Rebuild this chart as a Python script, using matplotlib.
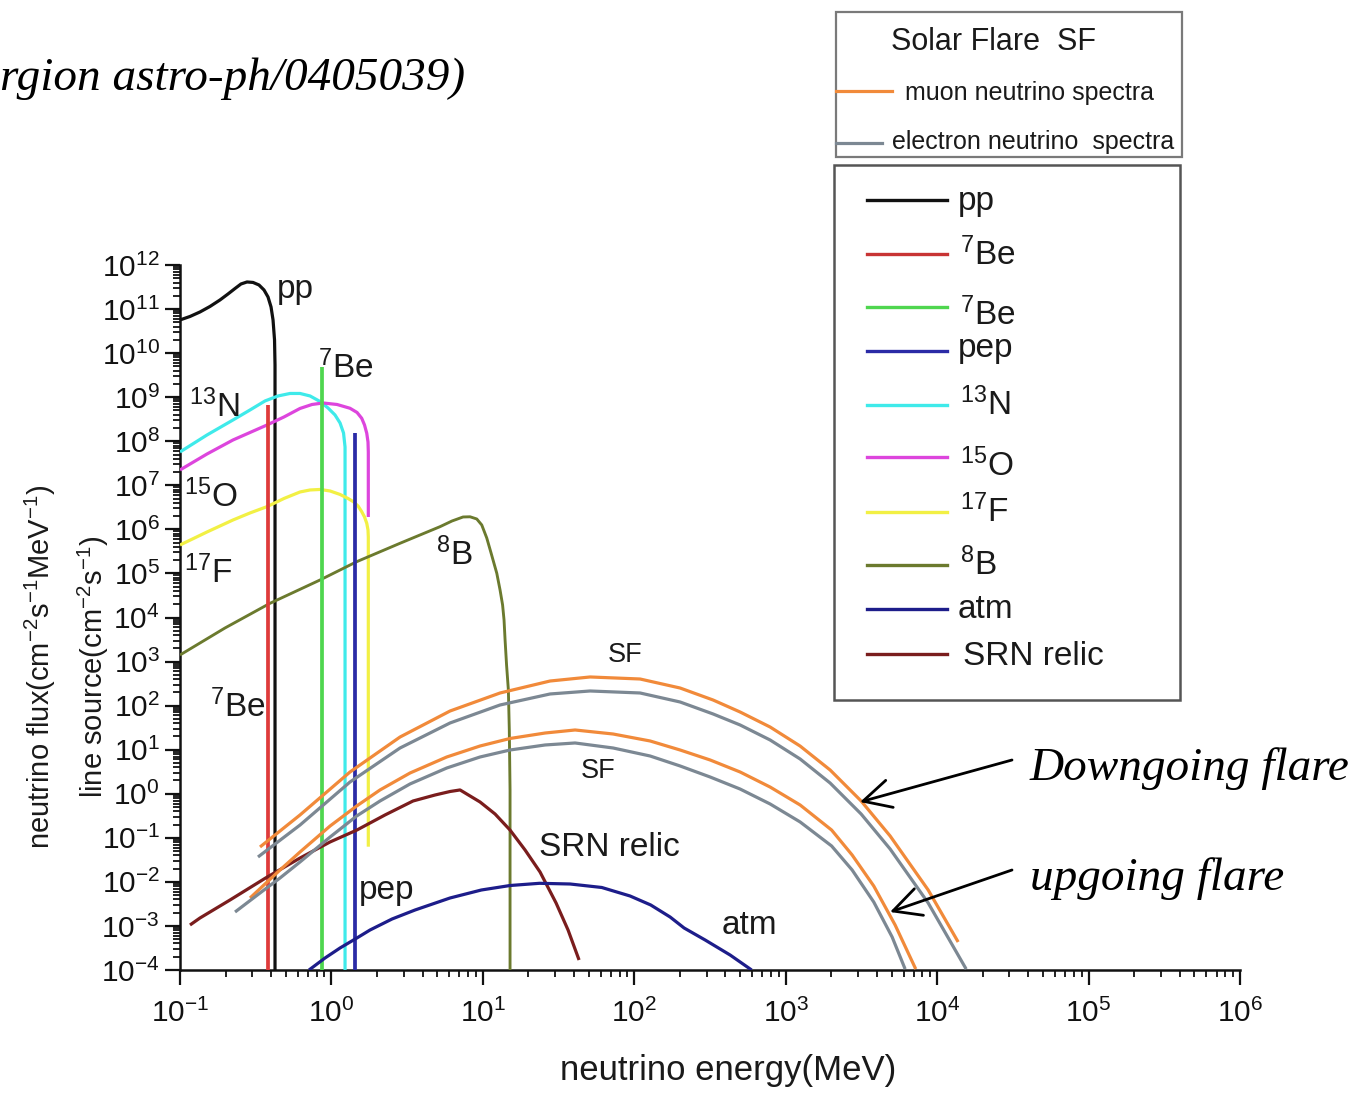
import matplotlib
matplotlib.use('Agg')
import matplotlib.pyplot as plt
from matplotlib import font_manager
from matplotlib.lines import Line2D
from matplotlib.patches import Rectangle, FancyArrowPatch
from matplotlib.ticker import LogLocator, NullFormatter
import numpy as np

# ---------------- data ----------------
pp_E = [0.1, 0.1164, 0.1355, 0.1578, 0.1837, 0.2075, 0.2309, 0.2528, 0.277, 0.3035,
        0.3324, 0.3588, 0.3813, 0.3992, 0.4115, 0.421, 0.4241, 0.4241]
pp_F = [5.66e10, 6.79e10, 8.59e10, 1.146e11, 1.609e11, 2.2e11, 2.93e11, 3.71e11, 4.12e11, 4.02e11,
        3.52e11, 2.71e11, 1.88e11, 1.116e11, 5.66e10, 1.99e10, 5.38e9, 1e-4]

n13_E = [0.1, 0.1508, 0.2239, 0.2901, 0.3642, 0.4441, 0.5328, 0.6203, 0.7225, 0.8408,
         0.9495, 1.056, 1.14, 1.202, 1.23, 1.23]
n13_F = [5.71e7, 1.389e8, 3.04e8, 5.13e8, 8.21e8, 1.066e9, 1.215e9, 1.215e9, 1.066e9, 7.99e8,
         5.69e8, 3.95e8, 2.6e8, 1.541e8, 7.42e7, 1e-4]

o15_E = [0.1, 0.1508, 0.2239, 0.2901, 0.3756, 0.4863, 0.6203, 0.7445, 0.8801, 1.089,
         1.327, 1.476, 1.585, 1.654, 1.711, 1.744, 1.752, 1.752]
o15_F = [2.23e7, 5.14e7, 1.069e8, 1.582e8, 2.34e8, 3.56e8, 5.55e8, 6.83e8, 7.39e8, 6.83e8,
         5.6e8, 4.5e8, 3.32e8, 2.34e8, 1.518e8, 9.63e7, 5.71e7, 1.911e6]

f17_E = [0.1, 0.1508, 0.2239, 0.2901, 0.3756, 0.4863, 0.6203, 0.7225, 0.8408, 0.979,
         1.14, 1.287, 1.395, 1.498, 1.585, 1.654, 1.711, 1.744, 1.752, 1.752]
f17_F = [4.42e5, 8.73e5, 1.634e6, 2.36e6, 3.28e6, 5.03e6, 7.06e6, 7.84e6, 8.05e6, 7.44e6,
         6.2e6, 5.03e6, 4.25e6, 3.4e6, 2.52e6, 1.911e6, 1.375e6, 9.69e5, 6.72e5, 0.0629]

b8_E = [0.1, 0.1982, 0.393, 0.8408, 1.469, 2.839, 5.215, 6.259, 7.4, 8.231, 9.115, 9.834,
        10.61, 11.33, 12.36, 12.99, 13.5, 13.8, 14.02, 14.34, 14.74, 14.95, 15.12, 15.12]
b8_F = [1.41e3, 5.78e3, 2.1e4, 7.1e4, 1.849e5, 4.84e5, 1.152e6, 1.551e6, 1.911e6, 1.931e6,
        1.722e6, 1.259e6, 6.38e5, 2.91e5, 1.008e5, 4.21e4, 1.924e4, 8.79e3, 3.09e3, 836,
        226, 28.0, 1.22, 1e-4]

be7_red_E, be7_red_F = 0.384, 6.6e8
be7_green_E, be7_green_F = 0.862, 4.9e9
pep_E, pep_F = 1.44, 1.5e8

srn_E = [0.1164, 0.1355, 0.2139, 0.3676, 0.6203, 0.979, 1.472, 2.259, 3.459, 4.834, 6.073,
         7.07, 8.231, 9.583, 12.04, 15.12, 19.0, 23.86, 30.44, 36.53, 43.19]
srn_F = [1.05e-3, 1.515e-3, 3.88e-3, 0.01225, 0.0348, 0.0804, 0.15, 0.33, 0.685, 0.937, 1.125,
         1.22, 0.89, 0.65, 0.347, 0.15, 0.0529, 0.01676, 3.32e-3, 8.09e-4, 1.686e-4]

atm_E = [0.7112, 0.9073, 1.14, 1.472, 1.799, 2.514, 3.566, 6.073, 9.774, 15.12, 23.65, 37.67,
         60.99, 93.82, 128.4, 172.4, 213.3, 293.6, 429.3, 595.5]
atm_F = [1e-4, 1.873e-4, 3.16e-4, 5.32e-4, 8.09e-4, 1.437e-3, 2.3e-3, 4.31e-3, 6.54e-3, 8.27e-3,
         9.28e-3, 8.95e-3, 7.46e-3, 4.78e-3, 2.99e-3, 1.595e-3, 8.98e-4, 4.8e-4, 2.19e-4, 1e-4]

# Solar flare spectra (downgoing / upgoing, muon / electron neutrinos)
sf_down_mu_E = [0.3376, 0.6203, 1.327, 2.839, 6.073, 12.99, 27.79, 51.07, 109.2, 200.7, 331.6,
                499.7, 788.9, 1245, 1965, 3148, 4893, 8727, 13765]
sf_down_mu_F = [0.0619, 0.33, 3.12, 19.4, 75.5, 193.6, 362, 447, 402, 251, 134,
                71.7, 32.7, 12.1, 3.46, 0.685, 0.11, 6.54e-3, 4.32e-4]
sf_down_e_E = [0.3274, 0.6203, 1.327, 2.839, 6.073, 12.99, 27.79, 51.07, 109.2, 200.7, 331.6,
               499.7, 788.9, 1245, 1965, 3148, 4893, 8727, 15545]
sf_down_e_F = [0.0367, 0.195, 1.85, 10.93, 40.4, 103.4, 183.8, 214.9, 193.6, 120.9, 64.6,
               36.4, 16.6, 6.15, 1.75, 0.347, 0.0557, 3.32e-3, 1.05e-4]
sf_up_mu_E = [0.2901, 0.4576, 0.6203, 0.979, 1.469, 2.094, 3.306, 5.776, 9.583, 15.12, 25.76,
              40.64, 72.44, 127.2, 200.7, 316.8, 499.7, 788.9, 1245, 2010, 2746, 3814, 5279, 7222]
sf_up_mu_F = [4.31e-3, 0.0186, 0.0477, 0.185, 0.528, 1.22, 2.96, 6.83, 12.13, 17.96, 23.9,
              28.0, 22.7, 15.76, 9.84, 5.84, 3.12, 1.42, 0.556, 0.15, 0.0407, 8.06e-3, 1.05e-3, 1.05e-4]
sf_up_e_E = [0.2309, 0.3376, 0.4576, 0.6203, 0.979, 1.469, 2.094, 3.306, 5.776, 9.583, 15.12,
             25.76, 40.64, 72.44, 127.2, 200.7, 316.8, 499.7, 788.9, 1245, 2010, 2746, 3814,
             5044, 6146]
sf_up_e_F = [2.07e-3, 5.59e-3, 0.01225, 0.0283, 0.104, 0.313, 0.685, 1.67, 3.84, 6.83, 9.84,
             12.79, 14.2, 10.93, 7.19, 4.27, 2.4, 1.28, 0.586, 0.229, 0.0652, 0.0186, 3.49e-3,
             5.61e-4, 1.05e-4]

x_ticks = [1e-1, 1e0, 1e1, 1e2, 1e3, 1e4, 1e5, 1e6]
x_tick_exp = [-1, 0, 1, 2, 3, 4, 5, 6]
y_ticks = [10.0 ** k for k in range(-4, 13)]
y_tick_exp = list(range(-4, 13))

legend_labels = ['pp', r'$^{7}$Be', r'$^{7}$Be', 'pep', r'$^{13}$N', r'$^{15}$O',
                 r'$^{17}$F', r'$^{8}$B', 'atm', 'SRN relic']

# ---------------- fonts ----------------
def has_font(name):
    try:
        font_manager.findfont(name, fallback_to_default=False)
        return True
    except Exception:
        return False

SANS = 'Liberation Sans' if has_font('Liberation Sans') else 'DejaVu Sans'
SERIF = 'Liberation Serif' if has_font('Liberation Serif') else 'DejaVu Serif'

plt.rcParams['font.family'] = [SANS, 'DejaVu Sans']
plt.rcParams['mathtext.fontset'] = 'custom'
plt.rcParams['mathtext.rm'] = SANS
plt.rcParams['mathtext.it'] = SANS + ':italic'
plt.rcParams['mathtext.bf'] = SANS + ':bold'
plt.rcParams['mathtext.sf'] = SANS

# ---------------- colours ----------------
C_PP = '#111111'
C_RED = '#df3b3b'
C_GREEN = '#4fd64f'
C_PEP = '#2b2ba6'
C_CYAN = '#3feaea'
C_MAG = '#dd45dd'
C_YEL = '#f2f044'
C_B8 = '#6b7a2e'
C_ATM = '#1d1d8a'
C_SRN = '#7a1d1d'
C_ORANGE = '#f18a3a'
C_GRAY = '#7c8893'

W, H = 1364, 1109
fig = plt.figure(figsize=(W / 100, H / 100), dpi=100)
fig.patch.set_facecolor('white')
ax = fig.add_axes([180 / W, 1 - 970 / H, 1060 / W, 705 / H])
ax.set_xscale('log')
ax.set_yscale('log')
ax.set_xlim(1e-1, 1e6)
ax.set_ylim(1e-4, 1e12)
ax.patch.set_alpha(0)

LW = 2.3
VLW = 2.7
kw = dict(solid_joinstyle='round', solid_capstyle='butt')
ax.plot(pp_E, pp_F, color=C_PP, lw=LW, zorder=3, **kw)
ax.plot(n13_E, n13_F, color=C_CYAN, lw=LW, zorder=3, **kw)
ax.plot(o15_E, o15_F, color=C_MAG, lw=LW, zorder=3, **kw)
ax.plot(f17_E, f17_F, color=C_YEL, lw=LW, zorder=3, **kw)
ax.plot(b8_E, b8_F, color=C_B8, lw=LW * 0.9, zorder=3, **kw)
ax.vlines([be7_red_E], 1e-4, [be7_red_F], color=C_RED, lw=VLW, zorder=3)
ax.vlines([be7_green_E], 1e-4, [be7_green_F], color=C_GREEN, lw=VLW, zorder=3)
ax.vlines([pep_E], 1e-4, [pep_F], color=C_PEP, lw=VLW, zorder=3)
ax.plot(srn_E, srn_F, color=C_SRN, lw=LW, zorder=4, **kw)
ax.plot(atm_E, atm_F, color=C_ATM, lw=LW, zorder=4, **kw)
ax.plot(sf_down_mu_E, sf_down_mu_F, color=C_ORANGE, lw=LW, zorder=5, **kw)
ax.plot(sf_down_e_E, sf_down_e_F, color=C_GRAY, lw=LW, zorder=5, **kw)
ax.plot(sf_up_mu_E, sf_up_mu_F, color=C_ORANGE, lw=LW, zorder=5, **kw)
ax.plot(sf_up_e_E, sf_up_e_F, color=C_GRAY, lw=LW, zorder=5, **kw)

# axes styling
for s in ['top', 'right']:
    ax.spines[s].set_visible(False)
for s in ['left', 'bottom']:
    ax.spines[s].set_linewidth(1.8)
    ax.spines[s].set_color('#111111')

ax.set_xticks(x_ticks)
ax.set_xticklabels([r'$\mathsf{10^{%d}}$' % e for e in x_tick_exp])
ax.set_yticks(y_ticks)
ax.set_yticklabels([r'$\mathsf{10^{%d}}$' % e for e in y_tick_exp])
ax.xaxis.set_minor_locator(LogLocator(base=10, subs=np.arange(2, 10), numticks=100))
ax.yaxis.set_minor_locator(LogLocator(base=10, subs=np.arange(2, 10), numticks=100))
ax.xaxis.set_minor_formatter(NullFormatter())
ax.yaxis.set_minor_formatter(NullFormatter())
ax.tick_params(which='major', direction='out', length=10.5, width=1.6, labelsize=21.5,
               colors='#111111')
ax.tick_params(axis='x', which='major', pad=10)
ax.tick_params(axis='y', which='major', pad=4)
ax.tick_params(which='minor', direction='out', length=5, width=1.3, colors='#111111')


def fx(x):
    return x / W


def fy(y):
    return 1 - y / H


def ftext(x, y, s, size=24, **kw):
    kw.setdefault('ha', 'left')
    kw.setdefault('va', 'baseline')
    return fig.text(fx(x), fy(y), s, fontsize=size, color='#1a1a1a', **kw)


# labels inside the plot
LAB = 24
ftext(277, 298, 'pp', LAB)
ftext(318, 378, r'$^{7}$Be', LAB)
ftext(189, 417, r'$^{13}$N', LAB)
ftext(184, 507, r'$^{15}$O', LAB)
ftext(184, 583, r'$^{17}$F', LAB)
ftext(436, 565, r'$^{8}$B', LAB)
ftext(210, 717, r'$^{7}$Be', LAB)
ftext(539, 856, 'SRN relic', LAB)
ftext(359, 899, 'pep', LAB)
ftext(722, 934, 'atm', LAB)
ftext(608, 662, 'SF', 19.5)
ftext(581, 778, 'SF', 19.5)

# axis titles
ftext(728, 1080, 'neutrino energy(MeV)', 25, ha='center')
fig.text(fx(40), fy(667), r'neutrino flux(cm$^{-2}$s$^{-1}$MeV$^{-1}$)', fontsize=21,
         rotation=90, ha='center', va='center', color='#1a1a1a')
fig.text(fx(93), fy(667), r'line source(cm$^{-2}$s$^{-1}$)', fontsize=21,
         rotation=90, ha='center', va='center', color='#1a1a1a')

# top-left reference text (cut at the figure edge)
fig.text(fx(0), fy(90), 'rgion astro-ph/0405039)', fontsize=34, family=SERIF,
         style='italic', ha='left', va='baseline', color='black')

# flare annotations
fig.text(fx(1030), fy(780), 'Downgoing flare', fontsize=34, family=SERIF,
         style='italic', ha='left', va='baseline', color='black')
fig.text(fx(1030), fy(890), 'upgoing flare', fontsize=34, family=SERIF,
         style='italic', ha='left', va='baseline', color='black')
arrow_kw = dict(arrowstyle='->,head_length=0.55,head_width=0.28', lw=2.0, color='black',
                mutation_scale=36, shrinkA=0, shrinkB=0)
fig.add_artist(FancyArrowPatch((fx(1012), fy(760)), (fx(860), fy(802)),
                               transform=fig.transFigure, **arrow_kw))
fig.add_artist(FancyArrowPatch((fx(1012), fy(870)), (fx(890), fy(912)),
                               transform=fig.transFigure, **arrow_kw))

# ---------------- legend box 1 (solar flare) ----------------
fig.add_artist(Rectangle((fx(836), fy(157)), fx(1182) - fx(836), fy(12) - fy(157),
                         transform=fig.transFigure, fill=False, edgecolor='#7a7a7a', lw=1.6))
ftext(891, 50, 'Solar Flare  SF', 22)
fig.add_artist(Line2D([fx(836), fx(892)], [fy(91), fy(91)], transform=fig.transFigure,
                      color=C_ORANGE, lw=LW))
ftext(905, 100, 'muon neutrino spectra', 18)
fig.add_artist(Line2D([fx(836), fx(882)], [fy(143), fy(143)], transform=fig.transFigure,
                      color=C_GRAY, lw=LW))
ftext(892, 149, 'electron neutrino  spectra', 18)

# ---------------- legend box 2 ----------------
fig.add_artist(Rectangle((fx(834), fy(700)), fx(1180) - fx(834), fy(165) - fy(700),
                         transform=fig.transFigure, fill=False, edgecolor='#555555', lw=1.8))
leg_colors = [C_PP, '#c83434', C_GREEN, C_PEP, C_CYAN, C_MAG, C_YEL, C_B8, C_ATM, C_SRN]
leg_line_y = [200, 254, 307, 351, 405, 457, 512, 565, 609, 654]
leg_text_y = [210, 265, 325, 357, 415, 476, 522, 575, 618, 665]
leg_text_x = [958, 960, 960, 958, 960, 960, 960, 960, 958, 963]
for c, ly, ty, tx, lab in zip(leg_colors, leg_line_y, leg_text_y, leg_text_x, legend_labels):
    fig.add_artist(Line2D([fx(867), fx(947)], [fy(ly), fy(ly)], transform=fig.transFigure,
                          color=c, lw=2.4))
    ftext(tx, ty, lab, 24)

fig.savefig('out.png', dpi=100, facecolor='white')
